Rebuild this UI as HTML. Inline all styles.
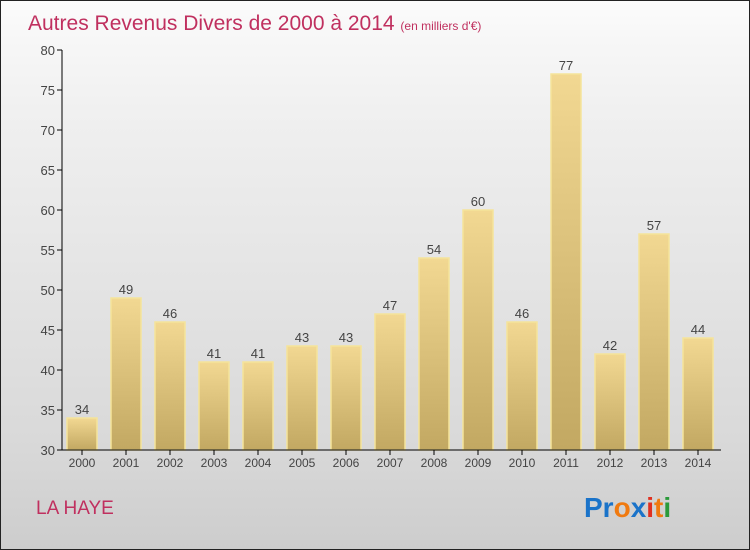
<!DOCTYPE html>
<html><head><meta charset="utf-8"><style>
body{margin:0}
#c{position:relative;width:748px;height:548px;border:1px solid #222;background:linear-gradient(#fbfbfb,#f0f0f0 20%,#d9d9d9 80%,#cdcdcd);font-family:"Liberation Sans",sans-serif;overflow:hidden}
</style></head><body>
<div id="c">
<svg width="748" height="548" id="s">
<defs><linearGradient id="g" x1="0" y1="0" x2="0" y2="1"><stop offset="0" stop-color="#f2d892"/><stop offset="1" stop-color="#c2a862"/></linearGradient></defs>
<text x="27" y="29" font-size="21" fill="#c0305f">Autres Revenus Divers de 2000 à 2014 <tspan font-size="12">(en milliers d'€)</tspan></text>
<text x="35" y="513" font-size="19" fill="#c0305f">LA HAYE</text>
<g font-size="28" font-weight="bold" font-family="Liberation Sans, sans-serif">
<text x="583" y="516"><tspan fill="#1a73c9">Pr</tspan><tspan fill="#f07a10">o</tspan><tspan fill="#1a73c9">x</tspan><tspan fill="#e03020">i</tspan><tspan fill="#f07a10">t</tspan><tspan fill="#2a9a3a">i</tspan></text></g>
<g id="plot"></g>
</svg></div>
<script>
const years=["2000","2001","2002","2003","2004","2005","2006","2007","2008","2009","2010","2011","2012","2013","2014"];
const values=[34,49,46,41,41,43,43,47,54,60,46,77,42,57,44];
const ticks=[30,35,40,45,50,55,60,65,70,75,80];
const NS="http://www.w3.org/2000/svg";
const p=document.getElementById('plot');
const y=v=>449-(v-30)*8;
const x=i=>81+i*44;
function mk(t,a){const e=document.createElementNS(NS,t);for(const k in a)e.setAttribute(k,a[k]);p.appendChild(e);return e;}
ticks.forEach(t=>{
const l=mk('line',{x1:56,x2:61,y1:y(t),y2:y(t),stroke:'#000'});


const tx=mk('text',{x:54,y:y(t)+5,'text-anchor':'end','font-size':13,fill:'#444'});tx.textContent=t;


});
values.forEach((v,i)=>{
const r=mk('rect',{x:x(i)-15,y:y(v),width:30,height:y(30)-y(v),fill:'url(#g)',stroke:'#f5e49a','stroke-width':1.5});


const t=mk('text',{x:x(i),y:y(v)-4,'text-anchor':'middle','font-size':13,fill:'#444'});t.textContent=v;


const tk=mk('line',{x1:x(i),x2:x(i),y1:449,y2:454,stroke:'#000'});


const xl=mk('text',{x:x(i),y:466,'text-anchor':'middle','font-size':12,fill:'#444'});xl.textContent=years[i];


});
const ya=mk('line',{x1:61,x2:61,y1:y(80),y2:449,stroke:'#000'});


const xa=mk('line',{x1:61,x2:720,y1:449,y2:449,stroke:'#000'});


</script>
</body></html>
